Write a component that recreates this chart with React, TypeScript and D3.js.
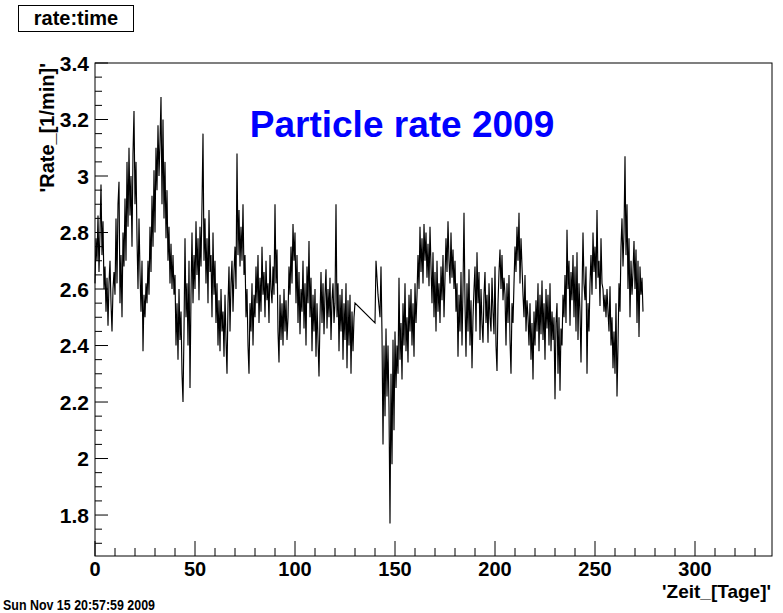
import React from "react";
import { scaleLinear, line, range } from "d3";

// days 0 .. 130, two readings per day
const daysA = range(0, 130.5, 0.5);
const rateA = [
  2.62, 2.78, 2.70, 2.86, 2.66, 2.80, 2.97, 2.72, 2.84, 2.60,
  2.68, 2.52, 2.64, 2.47, 2.62, 2.70, 2.55, 2.45, 2.60, 2.66,
  2.58, 2.85, 2.62, 2.90, 2.98, 2.55, 2.72, 2.50, 2.80, 2.68,
  2.92, 2.70, 3.05, 2.82, 3.10, 2.86, 3.00, 2.75, 3.08, 3.23,
  2.90, 3.05, 2.78, 2.60, 2.85, 2.66, 2.52, 2.70, 2.38, 2.58,
  2.50, 2.62, 2.55, 2.70, 2.58, 2.82, 2.66, 2.93, 2.75, 3.02,
  2.80, 3.10, 2.95, 3.18, 3.00, 3.12, 3.28, 2.90, 3.20, 2.85,
  3.05, 2.78, 2.95, 2.70, 2.82, 2.62, 2.76, 2.60, 2.72, 2.58,
  2.65, 2.40, 2.55, 2.35, 2.60, 2.42, 2.52, 2.30, 2.20, 2.45,
  2.78, 2.50, 2.62, 2.40, 2.70, 2.25, 2.58, 2.80, 2.55, 2.72,
  2.60, 2.84, 2.65, 2.78, 2.56, 2.82, 2.68, 2.90, 3.15, 2.70,
  2.85, 2.62, 2.78, 2.55, 2.88, 2.66, 2.72, 2.50, 2.80, 2.58,
  2.70, 2.48, 2.62, 2.40, 2.56, 2.38, 2.60, 2.45, 2.52, 2.36,
  2.58, 2.42, 2.30, 2.55, 2.68, 2.45, 2.62, 2.70, 2.52, 2.66,
  2.75, 2.60, 3.08, 2.72, 2.88, 2.68, 2.82, 2.70, 2.90, 2.65,
  2.72, 2.50, 2.60, 2.40, 2.30, 2.55, 2.45, 2.62, 2.40, 2.58,
  2.50, 2.68, 2.55, 2.72, 2.48, 2.64, 2.52, 2.75, 2.58, 2.66,
  2.50, 2.70, 2.56, 2.62, 2.48, 2.72, 2.60, 2.55, 2.68, 2.58,
  2.90, 2.62, 2.74, 2.45, 2.34, 2.58, 2.42, 2.55, 2.40, 2.60,
  2.45, 2.56, 2.42, 2.50, 2.68, 2.58, 2.75, 2.62, 2.83, 2.70,
  2.80, 2.55, 2.72, 2.48, 2.66, 2.44, 2.60, 2.52, 2.70, 2.46,
  2.62, 2.40, 2.68, 2.55, 2.77, 2.50, 2.64, 2.38, 2.58, 2.45,
  2.60, 2.36, 2.55, 2.42, 2.29, 2.50, 2.66, 2.48, 2.62, 2.44,
  2.58, 2.67, 2.46, 2.60, 2.50, 2.64, 2.42, 2.56, 2.62, 2.48,
  2.55, 2.90, 2.50, 2.62, 2.38, 2.58, 2.45, 2.60, 2.35, 2.55,
  2.42, 2.62, 2.32, 2.56, 2.40, 2.58, 2.30, 2.52, 2.38, 2.50,
  2.55,
];

// days 140 .. 274 after the gap
const daysB = range(140, 274.5, 0.5);
const rateB = [
  2.48, 2.70, 2.64, 2.58, 2.54, 2.50, 2.68, 2.44, 2.05, 2.40,
  2.15, 2.46, 2.22, 2.40, 2.18, 1.77, 2.30, 1.98, 2.42, 2.10,
  2.45, 2.25, 2.40, 2.30, 2.64, 2.35, 2.48, 2.28, 2.55, 2.40,
  2.62, 2.38, 2.50, 2.34, 2.58, 2.45, 2.60, 2.40, 2.55, 2.36,
  2.62, 2.48, 2.58, 2.72, 2.60, 2.82, 2.66, 2.78, 2.62, 2.83,
  2.70, 2.80, 2.64, 2.76, 2.61, 2.82, 2.68, 2.55, 2.73, 2.50,
  2.66, 2.45, 2.70, 2.52, 2.62, 2.48, 2.68, 2.56, 2.72, 2.50,
  2.64, 2.78, 2.66, 2.84, 2.70, 2.62, 2.80, 2.64, 2.74, 2.60,
  2.70, 2.52, 2.62, 2.36, 2.58, 2.45, 2.66, 2.40, 2.60, 2.87,
  2.55, 2.36, 2.62, 2.45, 2.67, 2.40, 2.56, 2.32, 2.50, 2.60,
  2.68, 2.45, 2.73, 2.55, 2.66, 2.42, 2.60, 2.48, 2.41, 2.58,
  2.66, 2.48, 2.58, 2.41, 2.62, 2.50, 2.45, 2.64, 2.52, 2.44,
  2.68, 2.40, 2.31, 2.55, 2.66, 2.74, 2.60, 2.72, 2.56, 2.64,
  2.58, 2.40, 2.62, 2.48, 2.65, 2.42, 2.30, 2.55, 2.48, 2.62,
  2.75, 2.66, 2.82, 2.70, 2.87, 2.62, 2.78, 2.68, 2.58, 2.50,
  2.65, 2.45, 2.56, 2.50, 2.40, 2.55, 2.35, 2.48, 2.28, 2.52,
  2.40, 2.56, 2.45, 2.62, 2.38, 2.58, 2.44, 2.63, 2.42, 2.55,
  2.35, 2.60, 2.46, 2.58, 2.40, 2.62, 2.38, 2.52, 2.42, 2.50,
  2.21, 2.48, 2.55, 2.30, 2.50, 2.24, 2.46, 2.40, 2.58, 2.50,
  2.65, 2.48, 2.81, 2.60, 2.70, 2.47, 2.66, 2.56, 2.72, 2.50,
  2.68, 2.45, 2.73, 2.42, 2.62, 2.52, 2.34, 2.58, 2.80, 2.62,
  2.56, 2.68, 2.30, 2.55, 2.45, 2.62, 2.72, 2.58, 2.80, 2.66,
  2.75, 2.60, 2.88, 2.64, 2.70, 2.54, 2.78, 2.62, 2.60, 2.52,
  2.58, 2.50, 2.60, 2.52, 2.45, 2.61, 2.40, 2.50, 2.32, 2.45,
  2.30, 2.55, 2.22, 2.40, 2.62, 2.52, 2.75, 2.85, 2.68, 2.80,
  3.07, 2.72, 2.90, 2.60, 2.78, 2.50, 2.70, 2.58, 2.66, 2.77,
  2.60, 2.74, 2.48, 2.70, 2.43, 2.68, 2.58, 2.64, 2.52,
];

const xTicks = [0, 50, 100, 150, 200, 250, 300];
const yTicks = [1.8, 2, 2.2, 2.4, 2.6, 2.8, 3, 3.2, 3.4];

const W = 783;
const H = 613;
const left = 95;
const right = 772;
const top = 63;
const bottom = 556;

const font = "'Liberation Sans', Arial, Helvetica, sans-serif";

export default function App() {
  const x = scaleLinear().domain([0, 338.5]).range([left, right]);
  const y = scaleLinear().domain([1.655, 3.4]).range([bottom, top]);

  const points = [
    ...daysA.map((d, i) => [d, rateA[i]]),
    ...daysB.map((d, i) => [d, rateB[i]]),
  ].filter(p => p[1] !== undefined);

  const path = line()
    .x(d => x(d[0]))
    .y(d => y(d[1]))(points);

  const xMinor = range(0, 339, 10).filter(v => v % 50 !== 0);
  const yMinor = range(1.7, 3.4, 0.05).filter(
    v => Math.abs(v * 5 - Math.round(v * 5)) > 0.01
  );

  return (
    <svg
      width={W}
      height={H}
      style={{ position: "absolute", left: 0, top: 0, background: "white" }}
      fontFamily={font}
      fontWeight="bold"
    >
      <rect x={0} y={0} width={W} height={H} fill="white" />

      {/* title box */}
      <rect x={18.5} y={5.5} width={115} height={26} fill="white" stroke="black" />
      <text x={76} y={25} textAnchor="middle" fontSize={20}>rate:time</text>

      {/* frame */}
      <rect x={left} y={top} width={right - left} height={bottom - top} fill="none" stroke="black" />

      <path d={path} fill="none" stroke="black" strokeWidth={1.15} />

      {/* x axis */}
      {xTicks.map(t => (
        <g key={"x" + t}>
          <line x1={x(t)} x2={x(t)} y1={bottom} y2={bottom - 15} stroke="black" />
          <text x={x(t)} y={576} textAnchor="middle" fontSize={20}>{t}</text>
        </g>
      ))}
      {xMinor.map(t => (
        <line key={"xm" + t} x1={x(t)} x2={x(t)} y1={bottom} y2={bottom - 8} stroke="black" />
      ))}

      {/* y axis */}
      {yTicks.map(t => (
        <g key={"y" + t}>
          <line x1={left} x2={left + 13} y1={y(t)} y2={y(t)} stroke="black" />
          <text x={89} y={y(t)} dy="0.36em" textAnchor="end" fontSize={21}>{t}</text>
        </g>
      ))}
      {yMinor.map(t => (
        <line key={"ym" + t} x1={left} x2={left + 7} y1={y(t)} y2={y(t)} stroke="black" />
      ))}

      <text x={771} y={598} textAnchor="end" fontSize={19}>'Zeit_[Tage]'</text>
      <text
        transform={`translate(54, ${top}) rotate(-90)`}
        textAnchor="end"
        fontSize={20}
      >
        'Rate_[1/min]'
      </text>

      <text x={402} y={137} textAnchor="middle" fontSize={37} fill="#0000ff">
        Particle rate 2009
      </text>

      <text x={3} y={610} fontSize={14} textLength={152} lengthAdjust="spacingAndGlyphs">
        Sun Nov 15 20:57:59 2009
      </text>
    </svg>
  );
}
